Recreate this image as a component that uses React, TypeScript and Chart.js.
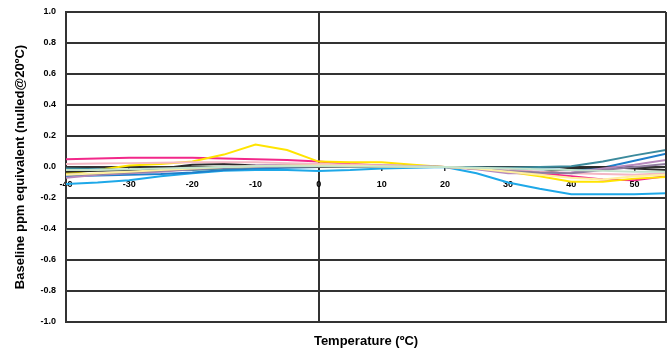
import React, { useEffect, useRef } from 'react';
import { Chart, registerables } from 'chart.js';
Chart.register(...registerables);

const temperatures = [-40, -35, -30, -25, -20, -15, -10, -5, 0, 5, 10, 15, 20, 25, 30, 35, 40, 45, 50, 55];

const paleGreen = [-0.02, -0.02, -0.015, -0.01, -0.005, 0.0, 0.005, 0.005, 0.005, 0.003, 0.002, 0.001, 0, -0.005, -0.01, -0.015, -0.02, -0.025, -0.03, -0.03];
const paleYellow = [-0.05, -0.04, -0.03, -0.02, -0.01, 0.0, 0.005, 0.01, 0.01, 0.008, 0.005, 0.002, 0, -0.01, -0.03, -0.05, -0.07, -0.08, -0.06, -0.05];
const mauve = [-0.05, -0.045, -0.035, -0.025, -0.015, -0.005, 0.0, 0.005, 0.005, 0.004, 0.003, 0.001, 0, -0.01, -0.025, -0.035, -0.04, -0.02, 0.0, 0.02];
const lightPink = [0.02, 0.022, 0.025, 0.028, 0.03, 0.03, 0.03, 0.025, 0.02, 0.015, 0.01, 0.005, 0, -0.01, -0.02, -0.03, -0.04, -0.045, -0.05, -0.04];
const plum = [-0.07, -0.05, -0.04, -0.03, -0.015, 0.0, 0.01, 0.015, 0.015, 0.013, 0.012, 0.006, 0, -0.015, -0.04, -0.04, -0.035, -0.01, 0.015, 0.045];
const black = [-0.03, -0.025, -0.02, -0.01, 0.015, 0.02, 0.01, 0.005, 0.0, 0.0, 0.0, 0.0, 0, -0.01, -0.02, -0.035, -0.01, 0.0, -0.01, -0.02];
const teal = [-0.01, -0.015, -0.02, -0.02, -0.02, -0.01, 0.0, 0.005, 0.01, 0.008, 0.005, 0.002, 0, -0.003, -0.005, 0.0, 0.005, 0.035, 0.075, 0.11];
const blue = [-0.06, -0.055, -0.05, -0.045, -0.035, -0.02, -0.01, -0.005, 0.0, 0.003, 0.005, 0.003, 0, -0.005, -0.01, -0.015, -0.02, -0.005, 0.04, 0.085];
const cyan = [-0.11, -0.1, -0.085, -0.06, -0.04, -0.025, -0.02, -0.02, -0.025, -0.02, -0.01, -0.005, 0, -0.04, -0.1, -0.14, -0.175, -0.175, -0.175, -0.17];
const yellow = [-0.04, -0.02, 0.01, 0.02, 0.035, 0.08, 0.145, 0.11, 0.035, 0.03, 0.03, 0.015, 0, -0.01, -0.03, -0.06, -0.095, -0.095, -0.075, -0.065];
const pink = [0.05, 0.055, 0.06, 0.06, 0.06, 0.055, 0.05, 0.045, 0.035, 0.02, 0.01, 0.005, 0, -0.01, -0.02, -0.04, -0.06, -0.08, -0.085, -0.06];

const seriesList: [number[], string][] = [
  [paleGreen, '#c3e4cc'],
  [paleYellow, '#fff0a0'],
  [mauve, '#8f7c9e'],
  [lightPink, '#f4b7c4'],
  [plum, '#b688bd'],
  [black, '#2a2a2a'],
  [teal, '#3b8a9c'],
  [blue, '#1f7fcb'],
  [cyan, '#1ea8e8'],
  [yellow, '#ffe400'],
  [pink, '#f2288a'],
];

const yTitle = 'Baseline ppm equivalent (nulled@20ºC)';
const xTitle = 'Temperature (ºC)';
const AXIS = '#333333';

export default function App() {
  const ref = useRef<HTMLCanvasElement>(null);
  useEffect(() => {
    if (!ref.current) return;
    const borderPlugin = {
      id: 'rightBorder',
      afterDraw(chart: any) {
        const { ctx, chartArea } = chart;
        ctx.save();
        ctx.strokeStyle = AXIS;
        ctx.lineWidth = 2;
        ctx.beginPath();
        ctx.moveTo(chartArea.right, chartArea.top);
        ctx.lineTo(chartArea.right, chartArea.bottom);
        ctx.stroke();
        ctx.restore();
      },
    };
    const chart = new Chart(ref.current, {
      type: 'line',
      data: {
        datasets: seriesList.map(([vals, color]) => ({
          data: temperatures.map((t, i) => ({ x: t, y: vals[i] })),
          borderColor: color,
          backgroundColor: color,
          borderWidth: 2,
          pointRadius: 0,
          tension: 0,
          xAxisID: 'x',
          yAxisID: 'y',
        })),
      },
      options: {
        animation: false,
        responsive: false,
        layout: { padding: { top: 12, right: 5, left: 0, bottom: 0 } },
        plugins: { legend: { display: false }, tooltip: { enabled: false } },
        scales: {
          x: {
            type: 'linear',
            position: 'bottom',
            min: -40,
            max: 55,
            ticks: { display: false, stepSize: 10 },
            afterBuildTicks: (s: any) => { s.ticks = s.ticks.filter((t: any) => t.value % 10 === 0); },
            grid: {
              color: (c: any) => (c.tick && c.tick.value === 0 ? AXIS : 'rgba(0,0,0,0)'),
              lineWidth: 2,
              drawTicks: false,
            },
            border: { display: true, color: AXIS, width: 2 },
            title: {
              display: true,
              text: xTitle,
              color: '#000',
              font: { family: 'Liberation Sans', size: 13, weight: 'bold' },
              padding: { top: 0, bottom: 0 },
            },
            afterFit: (s: any) => { s.height = 27; },
          },
          x2: {
            type: 'linear',
            position: { y: 0 },
            min: -40,
            max: 55,
            afterBuildTicks: (s: any) => { s.ticks = s.ticks.filter((t: any) => t.value % 10 === 0); },
            afterFit: (s: any) => { s.paddingTop = 0; s.paddingBottom = 0; },
            ticks: {
              stepSize: 10,
              autoSkip: false,
              maxRotation: 0,
              padding: 8,
              color: '#000',
              font: { family: 'Liberation Sans', size: 9, weight: 'bold' },
            },
            grid: { drawOnChartArea: false, drawTicks: true, tickLength: 4, color: AXIS, lineWidth: 1.5 },
            border: { display: false },
          },
          y: {
            type: 'linear',
            position: 'left',
            min: -1,
            max: 1,
            ticks: {
              stepSize: 0.2,
              padding: 10,
              color: '#000',
              font: { family: 'Liberation Sans', size: 9, weight: 'bold' },
              callback: (v: any) => (Math.abs(Number(v)) < 1e-9 ? '0.0' : Number(v).toFixed(1)),
            },
            grid: { color: AXIS, lineWidth: 2, drawTicks: false },
            border: { display: true, color: AXIS, width: 2 },
            title: {
              display: true,
              text: yTitle,
              color: '#000',
              font: { family: 'Liberation Sans', size: 13, weight: 'bold' },
              padding: { top: 13, bottom: 0 },
            },
            afterFit: (s: any) => { s.width = 66; s.paddingTop = 0; s.paddingBottom = 0; },
          },
        },
      },
      plugins: [borderPlugin],
    } as any);
    return () => chart.destroy();
  }, []);
  return (
    <div style={{ position: 'absolute', left: 0, top: 0, width: 671, height: 349 }}>
      <canvas ref={ref} width={671} height={349} style={{ display: 'block' }} />
    </div>
  );
}
